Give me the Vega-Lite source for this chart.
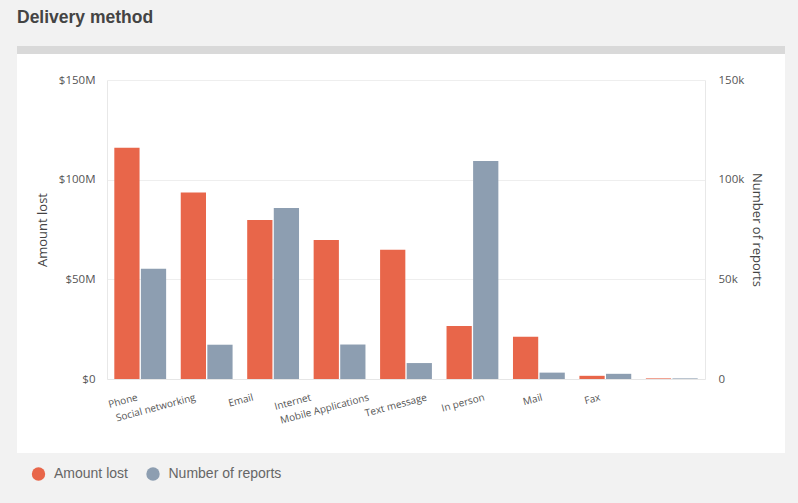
{
  "$schema": "https://vega.github.io/schema/vega-lite/v6.json",
  "width": 768,
  "height": 403,
  "autosize": {"type": "none"},
  "padding": {"left": 17, "top": 50, "right": 13, "bottom": 50},
  "background": "#f2f2f2",
  "title": {
    "text": "Delivery method",
    "anchor": "start",
    "frame": "group",
    "font": "Liberation Sans",
    "fontSize": 17.5,
    "fontWeight": "bold",
    "color": "#444444",
    "offset": 24
  },
  "data": {
    "values": [
      {"method": "Phone", "amount": 116000000, "reports": 55300},
      {"method": "Social networking", "amount": 93500000, "reports": 17200},
      {"method": "Email", "amount": 79800000, "reports": 85800},
      {"method": "Internet", "amount": 69700000, "reports": 17300},
      {"method": "Mobile Applications", "amount": 64800000, "reports": 8000},
      {"method": "Text message", "amount": 26600000, "reports": 109400},
      {"method": "In person", "amount": 21200000, "reports": 3200},
      {"method": "Mail", "amount": 1600000, "reports": 2600},
      {"method": "Fax", "amount": 300000, "reports": 300}
    ]
  },
  "encoding": {
    "x": {
      "field": "method",
      "type": "nominal",
      "sort": null,
      "scale": {"range": [90, 688], "paddingInner": 0.22, "paddingOuter": 0.11},
      "axis": {
        "title": null,
        "offset": -74,
        "ticks": false,
        "grid": false,
        "domain": true,
        "domainColor": "#e6e6e6",
        "labelAngle": -15,
        "labelAlign": "right",
        "labelBaseline": "top",
        "labelPadding": 13,
        "labelOverlap": false,
        "labelFont": "Open Sans",
        "labelFontSize": 10,
        "labelColor": "#555555",
        "labelOffset": {"expr": "-4 - 69 * datum.index"}
      }
    }
  },
  "layer": [
    {
      "mark": {"type": "bar"},
      "encoding": {
        "y": {
          "field": "amount",
          "type": "quantitative",
          "scale": {"domain": [0, 150000000], "range": [329, 30], "nice": false, "zero": true},
          "axis": {
            "title": "Amount lost",
            "offset": -90,
            "ticks": false,
            "domain": true,
            "domainColor": "#e8e8e8",
            "grid": true,
            "gridColor": "#eeeeee",
            "values": [0, 50000000, 100000000, 150000000],
            "labelExpr": "datum.value == 0 ? '$0' : '$' + (datum.value / 1000000) + 'M'",
            "labelFlush": false,
            "labelPadding": 12,
            "labelFont": "Open Sans",
            "labelFontSize": 11.5,
            "labelColor": "#555555",
            "titleFont": "Open Sans",
            "titleFontSize": 13,
            "titleFontWeight": "normal",
            "titleColor": "#444444",
            "titlePadding": 9
          }
        },
        "xOffset": {"datum": "Amount lost", "scale": {"domain": ["Amount lost", "Number of reports"], "paddingInner": 0.05}},
        "color": {
          "datum": "Amount lost",
          "scale": {"domain": ["Amount lost", "Number of reports"], "range": ["#e8664a", "#8d9eb1"]},
          "legend": {
            "orient": "none",
            "legendX": 14.5,
            "legendY": 417,
            "direction": "horizontal",
            "title": null,
            "padding": 0,
            "symbolType": "circle",
            "symbolSize": 180,
            "symbolStrokeWidth": 0,
            "symbolOpacity": 1,
            "labelFont": "Liberation Sans",
            "labelFontSize": 14,
            "labelColor": "#666666",
            "labelOffset": 8.5,
            "columnPadding": 17.5
          }
        }
      }
    },
    {
      "mark": {"type": "bar"},
      "encoding": {
        "y": {
          "field": "reports",
          "type": "quantitative",
          "scale": {"domain": [0, 150000], "range": [329, 30], "nice": false, "zero": true},
          "axis": {
            "orient": "right",
            "title": "Number of reports",
            "offset": -80,
            "ticks": false,
            "domain": true,
            "domainColor": "#e8e8e8",
            "grid": false,
            "values": [0, 50000, 100000, 150000],
            "labelExpr": "datum.value == 0 ? '0' : (datum.value / 1000) + 'k'",
            "labelFlush": false,
            "labelPadding": 13,
            "labelFont": "Open Sans",
            "labelFontSize": 11.5,
            "labelColor": "#555555",
            "titleFont": "Open Sans",
            "titleFontSize": 13,
            "titleFontWeight": "normal",
            "titleColor": "#444444",
            "titlePadding": 6
          }
        },
        "xOffset": {"datum": "Number of reports"},
        "color": {"datum": "Number of reports"}
      }
    }
  ],
  "resolve": {"scale": {"y": "independent"}},
  "config": {
    "view": {"fill": "#ffffff", "stroke": "#d9d9d9", "strokeWidth": 8, "strokeDash": [768, 4000]}
  }
}
